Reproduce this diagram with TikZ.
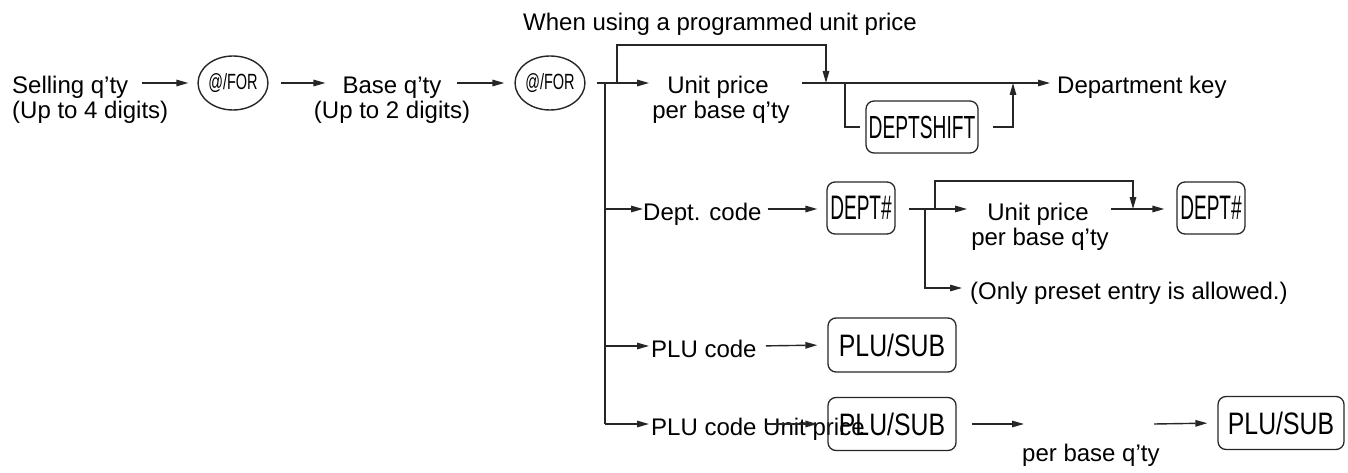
\documentclass[tikz,border=0pt]{standalone}
\usepackage{fontspec}
\setmainfont{Liberation Sans}
\usepackage{graphicx}
\usetikzlibrary{arrows.meta,shapes.geometric,calc}
\tikzset{
  lbl/.style={inner sep=0pt, text height=27pt, text depth=5pt, font=\fontsize{24}{25}\selectfont},
  keycirc/.style={ellipse, draw=black!85, line width=1.4pt, minimum width=58pt, minimum height=54pt, inner sep=0pt},
  keybox/.style={draw=black!85, rounded corners=8pt, line width=1.3pt, inner sep=0pt},
  arr/.style={draw=black!85, line width=1.4pt, -{Triangle[length=12pt,width=6.5pt]}},
  ln/.style={draw=black!85, line width=1.4pt},
}
\newcommand{\forkey}{\fontsize{22}{22}\selectfont\scalebox{0.66}[1]{@/FOR}}
\newcommand{\deptkey}{\fontsize{34}{34}\selectfont\scalebox{0.56}[1]{DEPT\#}}
\newcommand{\plukey}{\fontsize{31}{31}\selectfont\scalebox{0.8}[1]{PLU/SUB}}
\begin{document}
\begin{tikzpicture}[x=1pt,y=-1pt]
\useasboundingbox (0,0) rectangle (1348,473);
% top caption
\node[lbl] (top) at (720,20) {When using a programmed unit price};
% row 1
\node[lbl, anchor=west] (sell1) at (12,83) {Selling q'ty};
\node[lbl, anchor=west] (sell2) at (12,108) {(Up to 4 digits)};
\node[keycirc] (k1) at (233,83) {\forkey};
\node[lbl] (base1) at (392,83) {Base q'ty};
\node[lbl] (base2) at (392,108) {(Up to 2 digits)};
\node[keycirc] (k2) at (550,83) {\forkey};
\node[lbl] (up1a) at (718,83) {Unit price};
\node[lbl] (up1b) at (721,108) {per base q'ty};
\node[lbl, anchor=west] (dk) at (1057,83) {Department key};
\node[keybox, minimum width=112pt, minimum height=52pt] (ds) at (922,127) {\fontsize{32}{32}\selectfont\scalebox{0.6}[1]{DEPTSHIFT}};
% junction coordinates
\coordinate (jv) at (605,83);
\coordinate (jl) at (617,83);
\coordinate (lt) at (617,45);
\coordinate (jd) at (826,83);
\coordinate (js) at (845,83);
\coordinate (ju) at (1013,83);
\coordinate (jv2) at (605,209);
\coordinate (jv4) at (605,346);
\coordinate (jv5) at (605,424);
% row 1 connectors
\draw[arr, shorten <=14pt, shorten >=9pt] (sell1.east |- k1.west) -- (k1.west);
\draw[arr, shorten <=12pt, shorten >=17pt] (k1.east) -- (base1.west |- k1.east);
\draw[arr, shorten <=15pt, shorten >=10pt] (base1.east |- k2.west) -- (k2.west);
\draw[arr, shorten <=11pt, shorten >=18pt] (k2.east) -- (up1a.west |- k2.east);
\draw[ln] (jv) -- (jv5);
\draw[arr] (jl) |- (jd |- lt) -- (jd);
\draw[arr, shorten <=33pt, shorten >=7pt] (up1a.east |- jd) -- (dk.west);
\draw[ln, shorten >=5pt] (js) |- (ds.west);
\draw[arr, shorten <=14pt] (ds.east) -| (ju);
% row 2
\node[lbl, anchor=west] (dc) at (643,209) {Dept. code};
\node[keybox, minimum width=68pt, minimum height=52pt] (d1) at (861,208) {\deptkey};
\node[lbl] (up2a) at (1038,209) {Unit price};
\node[lbl] (up2b) at (1040,234) {per base q'ty};
\node[keybox, minimum width=68pt, minimum height=52pt] (d2) at (1211,208) {\deptkey};
\coordinate (jb) at (925,209);
\coordinate (jl2) at (935,209);
\coordinate (lt2) at (935,181);
\coordinate (jd2) at (1133,209);
\draw[arr] (jv2) -- (dc.west);
\draw[arr, shorten <=6pt, shorten >=9pt] (dc.east) -- (d1.west |- dc.east);
\draw[arr, shorten <=13pt, shorten >=20pt] (d1.east |- jb) -- (up2a.west |- jb);
\draw[arr] (jl2) |- (jd2 |- lt2) -- (jd2);
\draw[arr, shorten <=22pt, shorten >=12pt] (up2a.east |- jd2) -- (d2.west |- jd2);
% row 3
\node[lbl, anchor=west] (op) at (970,288) {(Only preset entry is allowed.)};
\draw[arr, shorten >=8pt] (jb) |- (op.west);
% row 4
\node[lbl, anchor=west] (pc1) at (651,346) {PLU code};
\node[keybox, minimum width=128pt, minimum height=54pt] (p1) at (892,345) {\plukey};
\draw[arr, shorten >=2pt] (jv4) -- (pc1.west);
\draw[arr, shorten <=9pt, shorten >=10pt] (pc1.east) -- (p1.west);
% row 5
\node[lbl, anchor=west] (pc2) at (651,424) {PLU code Unit price};
\node[keybox, minimum width=128pt, minimum height=53pt] (p2) at (892,424) {\plukey};
\node[lbl, anchor=west] (pb) at (1022,450) {per base q'ty};
\node[keybox, minimum width=126pt, minimum height=53pt] (p3) at (1281,423) {\plukey};
\coordinate (e5) at (1024,424);
\coordinate (s5) at (1154,424);
\draw[arr, shorten >=2pt] (jv5) -- (pc2.west);
\draw[arr, shorten <=9pt, shorten >=10pt] (pc1.east |- p2.west) -- (p2.west);
\draw[arr, shorten <=15pt] (p2.east) -- (e5);
\draw[arr, shorten >=10pt] (s5) -- (p3.west);
\end{tikzpicture}
\end{document}
